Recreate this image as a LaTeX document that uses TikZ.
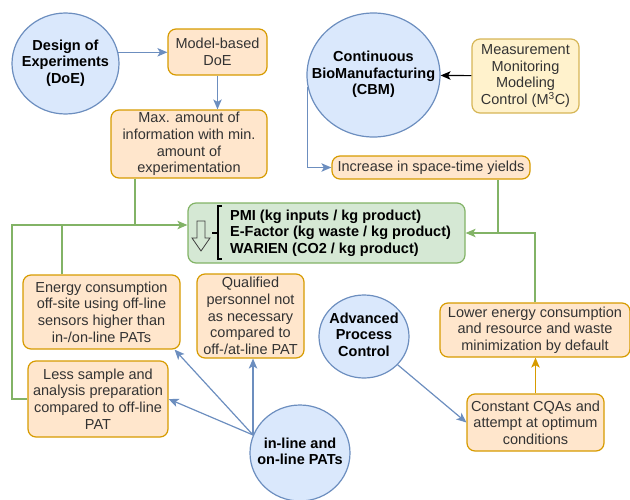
\documentclass[tikz,border=0pt]{standalone}
\usepackage{fontspec}
\setmainfont{Liberation Sans}
\usetikzlibrary{arrows.meta,shapes.geometric}

\definecolor{blueline}{HTML}{6C8EBF}
\definecolor{bluefill}{HTML}{DAE8FC}
\definecolor{orangeline}{HTML}{D79B00}
\definecolor{orangefill}{HTML}{FFE6CC}
\definecolor{greenline}{HTML}{82B366}
\definecolor{greenfill}{HTML}{D5E8D4}
\definecolor{yellowline}{HTML}{D6B656}
\definecolor{yellowfill}{HTML}{FFF2CC}
\definecolor{textgray}{HTML}{333333}

% text that does not widen the ellipse
\newcommand{\circlabel}[1]{\smash{\makebox[0pt]{\raisebox{-3.6pt}{\begin{tabular}{@{}c@{}}#1\end{tabular}}}}}

\begin{document}
\begin{tikzpicture}[
		x=1pt, y=-1pt,
		every node/.style={align=center, inner sep=1pt, font=\fontsize{14.5}{16.6}\selectfont},
		circ/.style={ellipse, inner sep=0pt, draw=blueline, fill=bluefill, line width=1.2pt, font=\fontsize{14.5}{16.6}\selectfont\bfseries},
		box/.style={rectangle, rounded corners=8pt, draw=orangeline, fill=orangefill, line width=1.2pt, text=textgray},
		yellowbox/.style={box, draw=yellowline, fill=yellowfill},
		greenbox/.style={box, draw=greenline, fill=greenfill},
		arrow/.style={-{Stealth[length=10pt,width=8.5pt,inset=2.5pt]}, line width=1.2pt},
		bluearrow/.style={arrow, draw=blueline},
		greenarrow/.style={arrow, draw=greenline},
		greenline/.style={line width=1.2pt, draw=greenline},
		orangearrow/.style={arrow, draw=orangeline},
		blackarrow/.style={arrow, draw=black}
		]
		
		\useasboundingbox (0,0) rectangle (630,499);
		
		% circles
		\node (doe) [circ, minimum width=107, minimum height=101] at (65.5,63.5) {\circlabel{Design of\\Experiments\\(DoE)}};
		\node (cbm) [circ, minimum width=133, minimum height=124] at (373.5,75) {\circlabel{Continuous\\BioManufacturing\\(CBM)}};
		\node (apc) [circ, minimum width=90, minimum height=83] at (364,336.5) {\circlabel{Advanced\\Process\\Control}};
		\node (pat) [circ, minimum width=100, minimum height=96] at (300,453) {\circlabel{in-line and\\on-line PATs}};
		
		% boxes
		\node (modeldoe) [box, minimum width=99, minimum height=46] at (217.5,52) {Model-based\\DoE};
		\node (maxinfo) [box, minimum width=156, minimum height=68] at (189,144) {Max. amount of\\information with min.\\amount of\\experimentation};
		\node (mmmc) [yellowbox, minimum width=107, minimum height=74] at (525.5,76) {Measurement\\Monitoring\\Modeling\\Control (M\textsuperscript{3}C)};
		\node (yields) [box, minimum width=198, minimum height=23] at (431,167.5) {Increase in space-time yields};
		\node (energy) [box, minimum width=157, minimum height=74] at (101.5,312) {Energy consumption\\off-site using off-line\\sensors higher than\\in-/on-line PATs};
		\node (personnel) [box, minimum width=107, minimum height=84] at (250.5,316) {Qualified\\personnel not\\as necessary\\compared to\\off-/at-line PAT};
		\node (sample) [box, minimum width=140, minimum height=76] at (98,399) {Less sample and\\analysis preparation\\compared to off-line\\PAT};
		\node (lower) [box, minimum width=190, minimum height=54] at (535,330) {Lower energy consumption\\and resource and waste\\minimization by default};
		\node (cqas) [box, minimum width=137, minimum height=57] at (535.5,422.5) {Constant CQAs and\\attempt at optimum\\conditions};
		
		% green metrics box
		\node (metrics) [greenbox, minimum width=277, minimum height=60] at (326.5,233) {};
		\node (metriclist) [anchor=west, align=left, font=\fontsize{14.5}{16.6}\selectfont\bfseries] at (229,233) {PMI (kg inputs / kg product)\\E-Factor (kg waste / kg product)\\WARIEN (CO2 / kg product)};
		\draw[line width=0.8pt, draw=black!75] (197,221) -- (205,221) -- (205,238) -- (210,238) -- (201,251) -- (192,238) -- (197,238) -- cycle;
		\draw[line width=1.1pt] (222,206) -- (218,206) -- (218,259) -- (222,259);
		\draw[line width=1.1pt] (212,233) -- (218,233);
		
		% joints
		\coordinate (gjoin) at (62,225);
		\coordinate (gdrop) at (135,225);
		\coordinate (gleft) at (12,225);
		\coordinate (gright) at (498,233);
		
		\draw[bluearrow] (doe.12) -- (doe.12 -| modeldoe.west);
		\draw[bluearrow] (modeldoe) -- (modeldoe |- maxinfo.north);
		\draw[blackarrow] (mmmc) -- (cbm);
		\draw[bluearrow] (cbm.190) |- (yields);
		
		\draw[greenline] (maxinfo.south -| gdrop) -- (gdrop);
		\draw[greenarrow] (energy.north -| gjoin) -- (gjoin) -- (gjoin -| metrics.west);
		\draw[greenline] (sample) -| (gleft) -- (gjoin);
		\draw[greenarrow] (lower) |- (metrics);
		\draw[greenline] (yields.south -| gright) -- (gright);
		
		\draw[orangearrow] (cqas) -- (cqas |- lower.south);
		\draw[bluearrow] (apc) -- (cqas.west);
		\draw[bluearrow] (pat.159) -- (pat.159 |- personnel.south);
		\draw[bluearrow] (pat.159) -- ([xshift=-6pt]energy.south east);
		\draw[bluearrow] (pat.159) -- (sample.east);
		
	\end{tikzpicture}
\end{document}
